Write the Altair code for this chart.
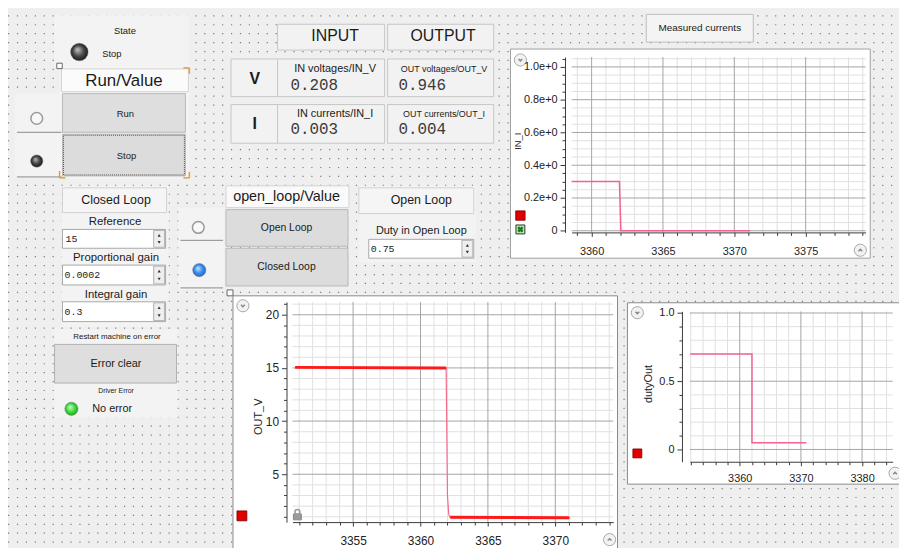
import altair as alt
import pandas as pd

W, H = 899, 540
M = 8
SANS = "Liberation Sans"
MONO = "Liberation Mono"

# ---------------- chart data ----------------
in_i_time = [3358.6, 3361.95, 3362.05, 3371.1]
in_i_value = [0.30, 0.30, 0.0, 0.0]

out_v_time = [3350.7, 3361.9, 3362.0, 3362.1, 3362.2, 3371.05]
out_v_value = [15.05, 15.0, 3.0, 1.2, 0.95, 0.9]

duty_time = [3351.9, 3362.0, 3362.0, 3370.9]
duty_value = [0.70, 0.70, 0.05, 0.05]

# tick values
in_i_xmajor = [3360, 3365, 3370, 3375]
in_i_xminor = [3359, 3361, 3362, 3363, 3364, 3366, 3367, 3368, 3369, 3371, 3372, 3373, 3374, 3376, 3377, 3378, 3379]
in_i_ymajor = [0, 0.2, 0.4, 0.6, 0.8, 1.0]
in_i_yminor = [0.05, 0.1, 0.15, 0.25, 0.3, 0.35, 0.45, 0.5, 0.55, 0.65, 0.7, 0.75, 0.85, 0.9, 0.95, 1.05]

out_v_xmajor = [3355, 3360, 3365, 3370]
out_v_xminor = [3351, 3352, 3353, 3354, 3356, 3357, 3358, 3359, 3361, 3362, 3363, 3364, 3366, 3367, 3368, 3369, 3371, 3372, 3373, 3374]
out_v_ymajor = [5, 10, 15, 20]
out_v_yminor = [1, 2, 3, 4, 6, 7, 8, 9, 11, 12, 13, 14, 16, 17, 18, 19, 21]

duty_xmajor = [3360, 3370, 3380]
duty_xminor = [3352, 3354, 3356, 3358, 3362, 3364, 3366, 3368, 3372, 3374, 3376, 3378, 3382, 3384]
duty_ymajor = [0, 0.5, 1.0]
duty_yminor = [0.1, 0.2, 0.3, 0.4, 0.6, 0.7, 0.8, 0.9]

# readouts and inputs
readout_in_v, readout_out_v = "0.208", "0.946"
readout_in_i, readout_out_i = "0.003", "0.004"
input_reference, input_kp, input_ki, input_duty = "15", "0.0002", "0.3", "0.75"

# ---------------- screen helpers ----------------
PX = alt.Scale(domain=[M, M + W], range=[0, W], nice=False, zero=False)
PY = alt.Scale(domain=[M, M + H], range=[0, H], nice=False, zero=False)


def px(f):
    return alt.X(f, type="quantitative", scale=PX, axis=None)


def py(f):
    return alt.Y(f, type="quantitative", scale=PY, axis=None)


def rects(rows, **mk):
    df = pd.DataFrame(rows, columns=["x0", "y0", "x1", "y1", "fill", "stroke"])
    return alt.Chart(df).mark_rect(strokeWidth=1, **mk).encode(
        x=px("x0"), x2="x1", y=py("y0"), y2="y1",
        fill=alt.Fill("fill:N", scale=None), stroke=alt.Stroke("stroke:N", scale=None))


def rules(rows, color, width=1.0, dash=None):
    df = pd.DataFrame(rows, columns=["x0", "y0", "x1", "y1"])
    mk = dict(color=color, strokeWidth=width)
    if dash:
        mk["strokeDash"] = dash
    return alt.Chart(df).mark_rule(**mk).encode(x=px("x0"), x2="x1", y=py("y0"), y2="y1")


def texts(rows, font=SANS, align="center", weight="normal", angle=None, color="#1a1a1a"):
    df = pd.DataFrame(rows, columns=["t", "x", "y", "s"])
    mk = dict(font=font, align=align, baseline="middle", fontWeight=weight, color=color)
    if angle is not None:
        mk["angle"] = angle
    return alt.Chart(df).mark_text(**mk).encode(
        x=px("x"), y=py("y"), text="t:N", size=alt.Size("s:Q", scale=None))


def symbols(rows, **mk):
    df = pd.DataFrame(rows, columns=["x", "y", "s"])
    return alt.Chart(df).mark_point(opacity=1, **mk).encode(
        x=px("x"), y=py("y"), size=alt.Size("s:Q", scale=None))


def led(x, y, r, c0, c1, c2):
    grad = {"gradient": "radial", "x1": 0.38, "y1": 0.35, "r1": 0.0,
            "x2": 0.5, "y2": 0.5, "r2": 0.55,
            "stops": [{"offset": 0, "color": c0}, {"offset": 0.55, "color": c1}, {"offset": 1, "color": c2}]}
    return symbols([(x, y, 3.14 * r * r)], shape="circle", filled=True, fill=grad,
                   stroke="#777", strokeWidth=0.5)


MAJOR, MINOR = "#a4a4a4", "#e0e0e0"


def plot(xdom, xr, ydom, yr, xmaj, xmin, ymaj, ymin, axis_y_page, axis_x_page,
         fs, xpad, ypad, ylab_expr):
    XS = alt.Scale(domain=xdom, range=[xr[0] - M, xr[1] - M], nice=False, zero=False)
    YS = alt.Scale(domain=ydom, range=[yr[0] - M, yr[1] - M], nice=False, zero=False)
    xoff = (axis_y_page - M) - H
    yoff = -(axis_x_page - M)
    common = dict(grid=False, title=None, zindex=1, domainColor="#3a3a3a", tickColor="#3a3a3a",
                  labelColor="#222222", labelFont=SANS, labelFontSize=fs, labelFlush=False,
                  labelOverlap=False)
    ax_xmin = alt.Axis(orient="bottom", offset=xoff, values=xmin, labels=False, domain=False,
                       tickSize=3, **common)
    ax_xmaj = alt.Axis(orient="bottom", offset=xoff, values=xmaj, format="d", tickSize=4,
                       labelPadding=xpad, domain=True, **common)
    ax_ymin = alt.Axis(orient="left", offset=yoff, values=ymin, labels=False, domain=False,
                       tickSize=3, **common)
    ax_ymaj = alt.Axis(orient="left", offset=yoff, values=ymaj, labelExpr=ylab_expr, tickSize=5,
                       labelPadding=ypad, domain=True, **common)
    vmin = alt.Chart(pd.DataFrame({"t": xmin, "lo": ydom[0], "hi": ydom[1]})).mark_rule(
        color=MINOR, strokeWidth=1).encode(
        x=alt.X("t:Q", scale=XS, axis=ax_xmin), y=alt.Y("lo:Q", scale=YS, axis=None), y2="hi:Q")
    hmin = alt.Chart(pd.DataFrame({"t": ymin, "lo": xdom[0], "hi": xdom[1]})).mark_rule(
        color=MINOR, strokeWidth=1).encode(
        y=alt.Y("t:Q", scale=YS, axis=ax_ymin), x=alt.X("lo:Q", scale=XS, axis=None), x2="hi:Q")
    vmaj = alt.Chart(pd.DataFrame({"t": xmaj, "lo": ydom[0], "hi": ydom[1]})).mark_rule(
        color=MAJOR, strokeWidth=1).encode(
        x=alt.X("t:Q", scale=XS, axis=ax_xmaj), y=alt.Y("lo:Q", scale=YS, axis=None), y2="hi:Q")
    hmaj = alt.Chart(pd.DataFrame({"t": ymaj, "lo": xdom[0], "hi": xdom[1]})).mark_rule(
        color=MAJOR, strokeWidth=1).encode(
        y=alt.Y("t:Q", scale=YS, axis=ax_ymaj), x=alt.X("lo:Q", scale=XS, axis=None), x2="hi:Q")
    return [vmin, hmin, vmaj, hmaj], XS, YS


def series(t, v, XS, YS, color, width, detail=None):
    df = pd.DataFrame({"t": t, "v": v, "i": list(range(len(t)))})
    enc = dict(x=alt.X("t:Q", scale=XS, axis=None), y=alt.Y("v:Q", scale=YS, axis=None),
               order=alt.Order("i:Q"))
    if detail is not None:
        df["seg"] = detail
        enc["detail"] = "seg:N"
        df = df[df["seg"] != ""]
    return alt.Chart(df).mark_line(color=color, strokeWidth=width).encode(**enc)


layers = []

# dotted background grid (decoration)
dot_rows = [(M, 13.5 + 9 * k, M + W, 13.5 + 9 * k) for k in range(60)]
layers.append(rules(dot_rows, "#7a7a7a", 1.2, dash=[1.2, 7.8]))

# plain light panels covering the dot grid
layers.append(rects([
    (55, 13, 190, 64, "#f3f3f3", "transparent"),
    (60, 64, 191, 178, "#f3f3f3", "transparent"),
    (15, 92, 62, 177, "#f3f3f3", "transparent"),
    (62, 185, 170, 327, "#f3f3f3", "transparent"),
    (55, 330, 179, 419, "#f3f3f3", "transparent"),
    (227, 185, 353, 207, "#f3f3f3", "transparent"),
    (180, 207, 226, 290, "#f3f3f3", "transparent"),
    (362, 185, 480, 262, "#f3f3f3", "transparent"),
    (280, 22, 498, 48, "#f1f1f1", "transparent"),
    (233, 57, 498, 95, "#f1f1f1", "transparent"),
    (233, 103, 498, 142, "#f1f1f1", "transparent"),
]))

# boxes and buttons
layers.append(rects([
    (280, 22, 388, 48, "#f2f2f2", "#c6c6c6"),
    (391, 22, 498, 48, "#f2f2f2", "#c6c6c6"),
    (233, 57, 280, 95, "#f2f2f2", "#c6c6c6"),
    (280, 57, 388, 95, "#f2f2f2", "#c6c6c6"),
    (391, 57, 498, 95, "#f2f2f2", "#c6c6c6"),
    (233, 103, 280, 142, "#f2f2f2", "#c6c6c6"),
    (280, 103, 388, 142, "#f2f2f2", "#c6c6c6"),
    (391, 103, 498, 142, "#f2f2f2", "#c6c6c6"),
    (652, 12, 760, 40, "#f4f4f4", "#bdbdbd"),
    (62, 67, 190, 90, "#fbfbfb", "#d2d2d2"),
    (63, 92, 187, 131, "#dedede", "#b8b8b8"),
    (63, 133, 187, 175, "#dcdcdc", "#b8b8b8"),
    (63, 187, 168, 212, "#f5f5f5", "#d0d0d0"),
    (63, 229, 167, 248, "#ffffff", "#a8a8a8"),
    (63, 265, 167, 285, "#ffffff", "#a8a8a8"),
    (63, 302, 167, 322, "#ffffff", "#a8a8a8"),
    (155, 230, 166, 247, "#eeeeee", "#b0b0b0"),
    (155, 266, 166, 284, "#eeeeee", "#b0b0b0"),
    (155, 303, 166, 321, "#eeeeee", "#b0b0b0"),
    (228, 185, 352, 207, "#fafafa", "#d2d2d2"),
    (228, 209, 351, 246, "#dcdcdc", "#b8b8b8"),
    (228, 248, 351, 286, "#dcdcdc", "#b8b8b8"),
    (362, 187, 478, 213, "#f5f5f5", "#d0d0d0"),
    (372, 239, 478, 258, "#ffffff", "#a8a8a8"),
    (466, 240, 477, 257, "#eeeeee", "#b0b0b0"),
    (55, 345, 178, 384, "#dedede", "#b0b0b0"),
    # chart panels
    (515, 47, 878, 258, "#ffffff", "#a0a0a0"),
    (235, 296, 623, 560, "#ffffff", "#8a8a8a"),
    (633, 303, 915, 486, "#ffffff", "#8a8a8a"),
]))

# focus rectangle on Stop button
layers.append(rects([(64, 134, 186, 174, "transparent", "#555555")], strokeDash=[1, 1]))

# separator lines and corner marks
layers.append(rules([(17, 131, 62, 131), (17, 176, 62, 176), (182, 240, 225, 240),
                     (182, 288, 225, 288)], "#8a8a8a", 1))
layers.append(rules([(185, 66, 191, 66), (191, 66, 191, 72), (60, 170, 60, 177), (60, 177, 66, 177),
                     (185, 177, 191, 177), (191, 171, 191, 177)], "#e0a040", 1.5))
layers.append(symbols([(60, 64, 30), (232, 293, 36)], shape="square", filled=True,
                      fill="#ffffff", stroke="#666666", strokeWidth=1))

# ---------------- the three plots ----------------
g, XS, YS = plot([3358.6, 3379.2], [576.7, 873.3], [-0.01, 1.06], [232.0, 55.1],
                 in_i_xmajor, in_i_xminor, in_i_ymajor, in_i_yminor, 232.0, 570.0,
                 11, 9, 3, "datum.value == 0 ? '0' : format(datum.value, '.1f') + 'e+0'")
layers += g
layers.append(series(in_i_time, in_i_value, XS, YS, "#f2648c", 1.5))

g, XS, YS = plot([3350.5, 3374.3], [295.0, 618.7], [0.5, 21.2], [524.3, 302.2],
                 out_v_xmajor, out_v_xminor, out_v_ymajor, out_v_yminor, 524.3, 289.0,
                 12, 10, 3, "format(datum.value, 'd')")
layers += g
layers.append(series(out_v_time, out_v_value, XS, YS, "#f26c8e", 1.2))
layers.append(series(out_v_time, out_v_value, XS, YS, "#ff1a1a", 3,
                     detail=["hi", "hi", "", "", "lo", "lo"]))

g, XS, YS = plot([3351.85, 3385.0], [696.0, 900.6], [-0.09, 1.012], [463.4, 311.65],
                 duty_xmajor, duty_xminor, duty_ymajor, duty_yminor, 463.4, 688.0,
                 11, 7, 3, "datum.value == 0 ? '0' : format(datum.value, '.1f')")
layers += g
layers.append(series(duty_time, duty_value, XS, YS, "#f2648c", 1.5))

# ---------------- decorations ----------------
# hollow radio buttons
layers.append(symbols([(37, 117, 140), (200, 227, 140)], shape="circle", filled=True,
                      fill="#f8f8f8", stroke="#9a9a9a", strokeWidth=1.5))
# LEDs
layers.append(led(80, 50, 10, "#c8c8c8", "#4a4a4a", "#111111"))
layers.append(led(37, 160, 7, "#bbbbbb", "#444444", "#111111"))
layers.append(led(201, 270, 7.5, "#cfeaff", "#3b8ff0", "#1a63c8"))
layers.append(led(72, 410, 7.5, "#d8ffd8", "#3fe03f", "#17a017"))

# round chevron buttons on the plot panels
layers.append(symbols([(525, 58, 150), (868, 250, 150), (245, 306, 150), (615, 542, 150),
                       (643, 313, 150), (903, 475, 150)], shape="circle", filled=True,
                      fill="#f2f2f2", stroke="#a8a8a8", strokeWidth=1))
layers.append(symbols([(525, 58, 40), (245, 306, 40), (643, 313, 40)],
                      shape="M-0.6,-0.3L0,0.3L0.6,-0.3", filled=False, stroke="#8a8a8a",
                      strokeWidth=1.5))
layers.append(symbols([(868, 250, 40), (615, 542, 40), (903, 475, 40)],
                      shape="M-0.6,0.3L0,-0.3L0.6,0.3", filled=False, stroke="#8a8a8a",
                      strokeWidth=1.5))
# spinner arrows
layers.append(symbols([(160.5, 235, 10), (160.5, 271, 10), (160.5, 308, 10), (471.5, 245, 10)],
                      shape="triangle-up", filled=True, fill="#333333"))
layers.append(symbols([(160.5, 242, 10), (160.5, 279, 10), (160.5, 316, 10), (471.5, 252, 10)],
                      shape="triangle-down", filled=True, fill="#333333"))
# series legend squares
layers.append(symbols([(525, 215, 90), (244, 518, 100), (643, 455, 81)], shape="square",
                      filled=True, fill="#e00000", stroke="#7a0000", strokeWidth=0.8))
layers.append(symbols([(525, 229, 81)], shape="square", filled=True, fill="#b8f0b8",
                      stroke="#333333", strokeWidth=1))
layers.append(symbols([(525, 229, 40)], shape="cross", angle=45, filled=True, fill="#1a7a1a"))
# lock icon
layers.append(rects([(296, 516, 304, 522, "#9a9a9a", "#8a8a8a")]))
layers.append(symbols([(300, 514, 25)], shape="circle", filled=False, stroke="#9a9a9a",
                      strokeWidth=1.5))

# ---------------- texts ----------------
layers.append(texts([
    ("State", 126, 29, 9.5),
    ("Run/Value", 125, 79, 17),
    ("Run", 126.5, 113, 9.5),
    ("Stop", 127.5, 155, 9.5),
    ("INPUT", 338, 34, 16),
    ("OUTPUT", 447, 34, 16),
    ("IN voltages/IN_V", 338, 67, 11),
    ("OUT voltages/OUT_V", 448, 67, 9),
    ("IN currents/IN_I", 338, 113, 11),
    ("OUT currents/OUT_I", 448, 113, 9),
    ("Measured currents", 706, 26, 10),
    ("Closed Loop", 117, 199, 12.5),
    ("Reference", 116, 222, 11.5),
    ("Proportional gain", 117, 258, 11.5),
    ("Integral gain", 117, 295, 11.5),
    ("open_loop/Value", 289, 196, 14.5),
    ("Open Loop", 289, 228, 10.5),
    ("Closed Loop", 289, 267, 10.5),
    ("Open Loop", 425, 199, 12.5),
    ("Duty in Open Loop", 425, 231, 11),
    ("Restart machine on error", 118, 338, 8),
    ("Error clear", 117, 365, 11),
    ("Driver Error", 117, 392, 7),
]))
layers.append(texts([("Stop", 103, 52, 9.5), ("No error", 93, 410, 11)], align="left"))
layers.append(texts([("V", 257, 77, 16), ("I", 257, 123, 16)], weight="bold"))
layers.append(texts([
    (readout_in_v, 293, 83, 16), (readout_out_v, 402, 83, 16),
    (readout_in_i, 293, 128, 16), (readout_out_i, 402, 128, 16),
], font=MONO, align="left", color="#3a3a3a"))
layers.append(texts([
    (input_reference, 66, 238.5, 10), (input_kp, 65, 275, 10),
    (input_ki, 65, 312, 10), (input_duty, 374, 248.5, 10),
], font=MONO, align="left", color="#222222"))
layers.append(texts([("IN_I", 523, 140, 9.5), ("OUT_V", 261, 418, 11), ("dutyOut", 655, 385, 11)],
                    angle=270, color="#222222"))

chart = alt.layer(*layers).resolve_scale(x="independent", y="independent").resolve_axis(
    x="independent", y="independent").properties(
    width=W, height=H, padding=0, background="#efefef",
    autosize=alt.AutoSizeParams(type="none")).configure_view(strokeWidth=0)

chart.save("out.html", embed_options={"renderer": "svg", "actions": False})
